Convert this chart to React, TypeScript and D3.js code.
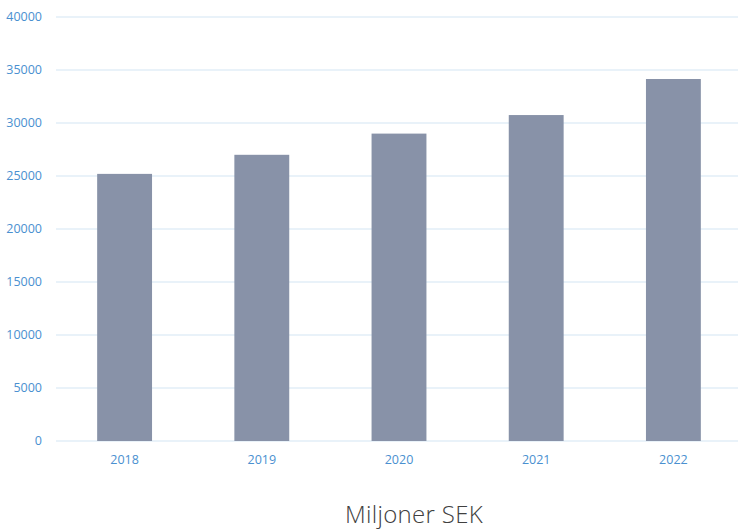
import React from "react";
import * as d3 from "d3";

const categories = ["2018", "2019", "2020", "2021", "2022"];
const values = [25200, 27000, 29000, 30750, 34150];
const yTicks = [0, 5000, 10000, 15000, 20000, 25000, 30000, 35000, 40000];
const title = "Miljoner SEK";

export default function App() {
  const W = 738, H = 530;
  const x = d3.scaleBand<string>().domain(categories).range([56, 742]).paddingInner(0.6).paddingOuter(0.3);
  const y = d3.scaleLinear().domain([0, 40000]).range([441, 17]);
  const font = "'Open Sans', sans-serif";
  return (
    <svg width={W} height={H} style={{ position: "absolute", left: 0, top: 0 }}>
      <rect width={W} height={H} fill="#fff" />
      {yTicks.map((t) => (
        <g key={t}>
          <line x1={56} x2={738} y1={y(t)} y2={y(t)} stroke="#d3e5f3" strokeWidth={1} />
          <text x={42} y={y(t)} dy="0.35em" textAnchor="end" fontFamily={font} fontSize={12.5} fill="#4a90d0">{t}</text>
        </g>
      ))}
      {categories.map((c, i) => (
        <rect key={c} x={x(c)} y={y(values[i])} width={x.bandwidth()} height={y(0) - y(values[i])} fill="#8892a8" />
      ))}
      {categories.map((c) => (
        <text key={c} x={(x(c) as number) + x.bandwidth() / 2} y={460} dy="0.35em" textAnchor="middle" fontFamily={font} fontSize={12.5} fill="#4a90d0">{c}</text>
      ))}
      <text x={414} y={523} textAnchor="middle" fontFamily={font} fontWeight={300} fontSize={24} letterSpacing={0.3} fill="#404040">{title}</text>
    </svg>
  );
}
